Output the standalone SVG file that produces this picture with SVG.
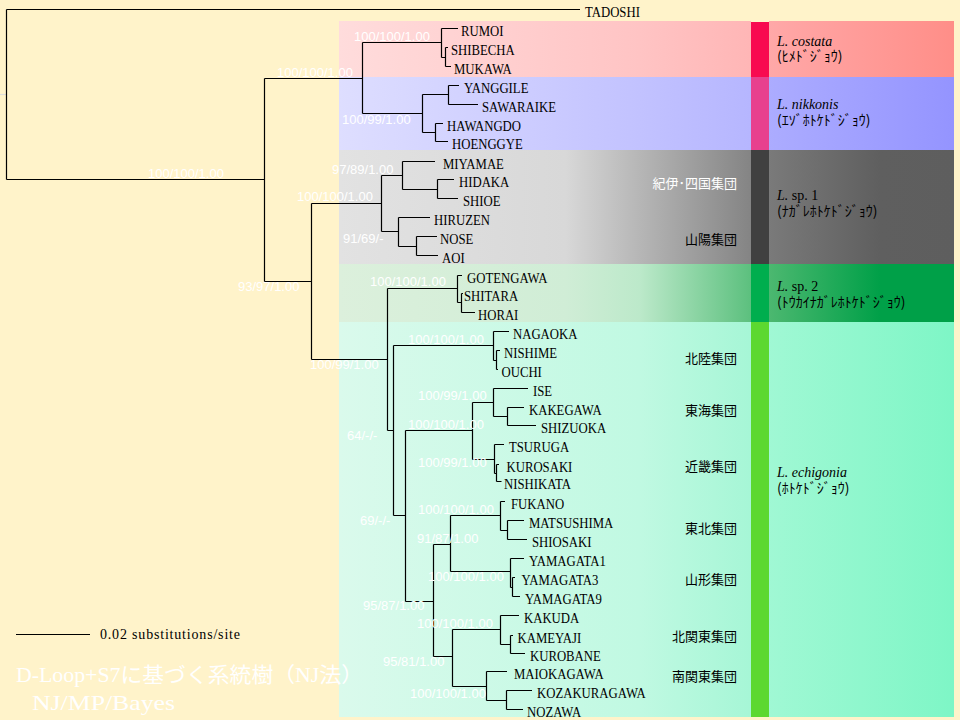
<svg xmlns="http://www.w3.org/2000/svg" width="960" height="720" viewBox="0 0 960 720">
<defs>
<linearGradient id="gRedL" x1="0" x2="1" y1="0" y2="0"><stop offset="0" stop-color="#FFDCDC"/><stop offset="0.73" stop-color="#FFC4C4"/><stop offset="1" stop-color="#FFB6B6"/></linearGradient>
<linearGradient id="gRedR" x1="0" x2="1" y1="0" y2="0"><stop offset="0" stop-color="#FFA8A8"/><stop offset="1" stop-color="#FF8E88"/></linearGradient>
<linearGradient id="gBluL" x1="0" x2="1" y1="0" y2="0"><stop offset="0" stop-color="#DEDEFF"/><stop offset="0.73" stop-color="#C2C2FF"/><stop offset="1" stop-color="#B6B6FF"/></linearGradient>
<linearGradient id="gBluR" x1="0" x2="1" y1="0" y2="0"><stop offset="0" stop-color="#ACACFF"/><stop offset="1" stop-color="#9494FF"/></linearGradient>
<linearGradient id="gGryL" x1="0" x2="1" y1="0" y2="0"><stop offset="0" stop-color="#E2E2E2"/><stop offset="0.55" stop-color="#D8D8D8"/><stop offset="0.73" stop-color="#B6B6B6"/><stop offset="1" stop-color="#848484"/></linearGradient>
<linearGradient id="gGryR" x1="0" x2="1" y1="0" y2="0"><stop offset="0" stop-color="#7A7A7A"/><stop offset="0.6" stop-color="#5F5F5F"/><stop offset="1" stop-color="#5E5E5E"/></linearGradient>
<linearGradient id="gGrnL" x1="0" x2="1" y1="0" y2="0"><stop offset="0" stop-color="#DCF0DC"/><stop offset="0.55" stop-color="#D0EDD6"/><stop offset="0.73" stop-color="#BCE9CA"/><stop offset="1" stop-color="#5CC07E"/></linearGradient>
<linearGradient id="gGrnR" x1="0" x2="1" y1="0" y2="0"><stop offset="0" stop-color="#4CB870"/><stop offset="0.6" stop-color="#00A048"/><stop offset="1" stop-color="#00A048"/></linearGradient>
<linearGradient id="gMntL" x1="0" x2="1" y1="0" y2="0"><stop offset="0" stop-color="#DAFAEC"/><stop offset="0.73" stop-color="#C0F9E2"/><stop offset="1" stop-color="#A6F6D6"/></linearGradient>
<linearGradient id="gMntR" x1="0" x2="1" y1="0" y2="0"><stop offset="0" stop-color="#A0F8D4"/><stop offset="1" stop-color="#7EF6C6"/></linearGradient>
</defs>
<style>
.br{fill:none;stroke:#000;stroke-width:1.2}
.tx text{font-family:"Liberation Serif","DejaVu Serif",serif;font-size:14.5px;fill:#000}
.sup{font-family:"Liberation Sans",Arial,sans-serif;font-size:13px;fill:#fff}
.grp{font-family:"Noto Sans CJK JP",sans-serif;font-size:13px;text-anchor:end}
.sp{font-family:"Liberation Serif","Noto Sans CJK JP",serif;font-size:14px;fill:#000}
.kana{font-family:"Noto Sans CJK JP",sans-serif;font-size:14px;fill:#000}
.it{font-style:italic}
.title{font-family:"Liberation Serif","Noto Sans CJK JP",serif;font-size:21px;fill:#fff}
.scl{font-family:"Liberation Serif","DejaVu Serif",serif;font-size:14px;fill:#000}
</style>
<rect x="0" y="0" width="960" height="720" fill="#FFF3CA"/>
<g id="bands">
<rect x="339" y="21" width="412" height="56" fill="url(#gRedL)"/>
<rect x="769" y="21" width="185" height="56" fill="url(#gRedR)"/>
<rect x="339" y="77" width="412" height="73" fill="url(#gBluL)"/>
<rect x="769" y="77" width="185" height="73" fill="url(#gBluR)"/>
<rect x="339" y="150" width="412" height="114" fill="url(#gGryL)"/>
<rect x="769" y="150" width="185" height="114" fill="url(#gGryR)"/>
<rect x="339" y="264" width="412" height="58" fill="url(#gGrnL)"/>
<rect x="769" y="264" width="185" height="58" fill="url(#gGrnR)"/>
<rect x="339" y="322" width="412" height="395" fill="url(#gMntL)"/>
<rect x="769" y="322" width="185" height="395" fill="url(#gMntR)"/>
<rect x="751" y="22" width="18" height="55" fill="#F80A50"/>
<rect x="751" y="77" width="18" height="73" fill="#E8408E"/>
<rect x="751" y="150" width="18" height="114" fill="#404040"/>
<rect x="751" y="264" width="18" height="58" fill="#00AE4E"/>
<rect x="751" y="322" width="18" height="395" fill="#5CD830"/>
</g>
<g id="branches" class="br">
<path d="M0 94.5H6" stroke="#DDD"/>
<path d="M6.5 9.5V179.5M6.5 9.5H580M6.5 179.5H264.5"/>
<path d="M264.5 78.5V281.5M264.5 78.5H362.5M362.5 42.5V113.5M362.5 42.5H441.5M441.5 28.5V57.5M441.5 28.5H458M441.5 57.5H445.5M445.5 47.5V66.5M445.5 47.5H448M445.5 66.5H451"/>
<path d="M362.5 113.5H422.5M422.5 94.5V132.5M422.5 94.5H448.5M448.5 85.5V104.5M448.5 85.5H459M448.5 104.5H478M422.5 132.5H435.5M435.5 123.5V141.5M435.5 123.5H443M435.5 141.5H448"/>
<path d="M264.5 281.5H311.5M311.5 203.5V359.5M311.5 203.5H381.5M381.5 175.5V231.5M381.5 175.5H402.5M402.5 161.5V189.5M402.5 161.5H435M402.5 189.5H437.5M437.5 179.5V198.5M437.5 179.5H454M437.5 198.5H458M381.5 231.5H398.5M398.5 217.5V246.5M398.5 217.5H430M398.5 246.5H416.5M416.5 236.5V255.5M416.5 236.5H437M416.5 255.5H438"/>
<path d="M311.5 359.5H387.5M387.5 288.5V430.5M387.5 288.5H457.5M457.5 275.5V302.5M457.5 275.5H462M457.5 302.5H461.5M461.5 293.5V312.5M461.5 293.5H463M461.5 312.5H475"/>
<path d="M387.5 430.5H393.5M393.5 345.5V515.5M393.5 345.5H493.5M493.5 331.5V360.5M493.5 331.5H509M493.5 360.5H496.5M496.5 350.5V369.5M496.5 350.5H500M496.5 369.5H498"/>
<path d="M393.5 515.5H405.5M405.5 430.5V601.5M405.5 430.5H472.5M472.5 402.5V459.5M472.5 402.5H493.5M493.5 388.5V416.5M493.5 388.5H528M493.5 416.5H507.5M507.5 407.5V425.5M507.5 407.5H524M507.5 425.5H536M472.5 459.5H494.5M494.5 444.5V473.5M494.5 444.5H504M494.5 473.5H496.5M496.5 464.5V481.5M496.5 464.5H499M496.5 481.5H501.5"/>
<path d="M405.5 601.5H433.5M433.5 544.5V656.5M433.5 544.5H450.5M450.5 515.5V571.5M450.5 515.5H500.5M500.5 501.5V530.5M500.5 501.5H505M500.5 530.5H507.5M507.5 520.5V539.5M507.5 520.5H524M507.5 539.5H527M450.5 571.5H510.5M510.5 558.5V587.5M510.5 558.5H524M510.5 587.5H512.5M512.5 577.5V596.5M512.5 577.5H515M512.5 596.5H520"/>
<path d="M433.5 656.5H452.5M452.5 629.5V686.5M452.5 629.5H500.5M500.5 615.5V644.5M500.5 615.5H519M500.5 644.5H510.5M510.5 635.5V653.5M510.5 635.5H513M510.5 653.5H525M452.5 686.5H486.5M486.5 671.5V700.5M486.5 671.5H507M486.5 700.5H506.5M506.5 690.5V709.5M506.5 690.5H532M506.5 709.5H523"/>
</g>
<g id="support" class="sup">
<text x="148" y="178">100/100/1.00</text>
<text x="277" y="77">100/100/1.00</text>
<text x="354" y="41">100/100/1.00</text>
<text x="342" y="124">100/99/1.00</text>
<text x="297" y="201">100/100/1.00</text>
<text x="332" y="174">97/89/1.00</text>
<text x="343" y="243">91/69/-</text>
<text x="238" y="291">93/97/1.00</text>
<text x="370" y="286">100/100/1.00</text>
<text x="310" y="369">100/99/1.00</text>
<text x="408" y="344">100/100/1.00</text>
<text x="347" y="440">64/-/-</text>
<text x="418" y="400">100/99/1.00</text>
<text x="408" y="429">100/100/1.00</text>
<text x="418" y="467">100/99/1.00</text>
<text x="360" y="525">69/-/-</text>
<text x="418" y="514">100/100/1.00</text>
<text x="417" y="543">91/87/1.00</text>
<text x="428" y="581">100/100/1.00</text>
<text x="363" y="610">95/87/1.00</text>
<text x="417" y="628">100/100/1.00</text>
<text x="383" y="666">95/81/1.00</text>
<text x="410" y="698">100/100/1.00</text>
</g>
<g id="taxa" class="tx">
<g id="t-TADOSHI"><text transform="translate(585 17) scale(0.88 1)">TADOSHI</text></g>
<g id="t-RUMOI"><text transform="translate(461 36) scale(0.88 1)">RUMOI</text></g>
<g id="t-SHIBECHA"><text transform="translate(451 55) scale(0.88 1)">SHIBECHA</text></g>
<g id="t-MUKAWA"><text transform="translate(454 74) scale(0.88 1)">MUKAWA</text></g>
<g id="t-YANGGILE"><text transform="translate(464 93) scale(0.88 1)">YANGGILE</text></g>
<g id="t-SAWARAIKE"><text transform="translate(482 112) scale(0.88 1)">SAWARAIKE</text></g>
<g id="t-HAWANGDO"><text transform="translate(447 131) scale(0.88 1)">HAWANGDO</text></g>
<g id="t-HOENGGYE"><text transform="translate(452 149) scale(0.88 1)">HOENGGYE</text></g>
<g id="t-MIYAMAE"><text transform="translate(443 169) scale(0.88 1)">MIYAMAE</text></g>
<g id="t-HIDAKA"><text transform="translate(459 187) scale(0.88 1)">HIDAKA</text></g>
<g id="t-SHIOE"><text transform="translate(463 206) scale(0.88 1)">SHIOE</text></g>
<g id="t-HIRUZEN"><text transform="translate(434 225) scale(0.88 1)">HIRUZEN</text></g>
<g id="t-NOSE"><text transform="translate(440 244) scale(0.88 1)">NOSE</text></g>
<g id="t-AOI"><text transform="translate(442 263) scale(0.88 1)">AOI</text></g>
<g id="t-GOTENGAWA"><text transform="translate(467 283) scale(0.88 1)">GOTENGAWA</text></g>
<g id="t-SHITARA"><text transform="translate(464 301) scale(0.88 1)">SHITARA</text></g>
<g id="t-HORAI"><text transform="translate(478 320) scale(0.88 1)">HORAI</text></g>
<g id="t-NAGAOKA"><text transform="translate(513 339) scale(0.88 1)">NAGAOKA</text></g>
<g id="t-NISHIME"><text transform="translate(504 358) scale(0.88 1)">NISHIME</text></g>
<g id="t-OUCHI"><text transform="translate(501.5 377) scale(0.88 1)">OUCHI</text></g>
<g id="t-ISE"><text transform="translate(533 396) scale(0.88 1)">ISE</text></g>
<g id="t-KAKEGAWA"><text transform="translate(529 415) scale(0.88 1)">KAKEGAWA</text></g>
<g id="t-SHIZUOKA"><text transform="translate(541 433) scale(0.88 1)">SHIZUOKA</text></g>
<g id="t-TSURUGA"><text transform="translate(509 452) scale(0.88 1)">TSURUGA</text></g>
<g id="t-KUROSAKI"><text transform="translate(506.5 472) scale(0.88 1)">KUROSAKI</text></g>
<g id="t-NISHIKATA"><text transform="translate(504 489) scale(0.88 1)">NISHIKATA</text></g>
<g id="t-FUKANO"><text transform="translate(511 509) scale(0.88 1)">FUKANO</text></g>
<g id="t-MATSUSHIMA"><text transform="translate(529 528) scale(0.88 1)">MATSUSHIMA</text></g>
<g id="t-SHIOSAKI"><text transform="translate(532 547) scale(0.88 1)">SHIOSAKI</text></g>
<g id="t-YAMAGATA1"><text transform="translate(529 566) scale(0.88 1)">YAMAGATA1</text></g>
<g id="t-YAMAGATA3"><text transform="translate(521.5 585) scale(0.88 1)">YAMAGATA3</text></g>
<g id="t-YAMAGATA9"><text transform="translate(525 604) scale(0.88 1)">YAMAGATA9</text></g>
<g id="t-KAKUDA"><text transform="translate(524 623) scale(0.88 1)">KAKUDA</text></g>
<g id="t-KAMEYAJI"><text transform="translate(517.5 643) scale(0.88 1)">KAMEYAJI</text></g>
<g id="t-KUROBANE"><text transform="translate(530 661) scale(0.88 1)">KUROBANE</text></g>
<g id="t-MAIOKAGAWA"><text transform="translate(514 679) scale(0.88 1)">MAIOKAGAWA</text></g>
<g id="t-KOZAKURAGAWA"><text transform="translate(537 698) scale(0.88 1)">KOZAKURAGAWA</text></g>
<g id="t-NOZAWA"><text transform="translate(527 717) scale(0.88 1)">NOZAWA</text></g>
</g>
<g id="groups" class="grp">
<text x="737" y="188" fill="#fff">紀伊･四国集団</text>
<text x="737" y="244" fill="#000">山陽集団</text>
<text x="737" y="363" fill="#000">北陸集団</text>
<text x="737" y="415" fill="#000">東海集団</text>
<text x="737" y="471" fill="#000">近畿集団</text>
<text x="737" y="533" fill="#000">東北集団</text>
<text x="737" y="584" fill="#000">山形集団</text>
<text x="737" y="641" fill="#000">北関東集団</text>
<text x="737" y="681" fill="#000">南関東集団</text>
</g>
<g id="species">
<g id="sp-costata"><text class="sp it" x="777" y="46">L. costata</text><text class="kana" x="777" y="61">(ﾋﾒﾄﾞｼﾞｮｳ)</text></g>
<g id="sp-nikkonis"><text class="sp it" x="777" y="109">L. nikkonis</text><text class="kana" x="777" y="125">(ｴｿﾞﾎﾄｹﾄﾞｼﾞｮｳ)</text></g>
<g id="sp-sp1"><text class="sp" x="777" y="200"><tspan class="it">L.</tspan> sp. 1</text><text class="kana" x="777" y="216">(ﾅｶﾞﾚﾎﾄｹﾄﾞｼﾞｮｳ)</text></g>
<g id="sp-sp2"><text class="sp" x="777" y="291"><tspan class="it">L.</tspan> sp. 2</text><text class="kana" x="777" y="307">(ﾄｳｶｲﾅｶﾞﾚﾎﾄｹﾄﾞｼﾞｮｳ)</text></g>
<g id="sp-echigonia"><text class="sp it" x="777" y="477">L. echigonia</text><text class="kana" x="777" y="493">(ﾎﾄｹﾄﾞｼﾞｮｳ)</text></g>
</g>
<g id="scale">
<path d="M16 634.5H90" class="br"/>
<text x="100" y="639" class="scl" textLength="140" lengthAdjust="spacing">0.02 substitutions/site</text>
</g>
<g id="title" class="title">
<text x="16" y="682" textLength="347" lengthAdjust="spacingAndGlyphs">D-Loop+S7に基づく系統樹（NJ法）</text>
<text x="32" y="710" textLength="143" lengthAdjust="spacingAndGlyphs">NJ/MP/Bayes</text>
</g>
</svg>
